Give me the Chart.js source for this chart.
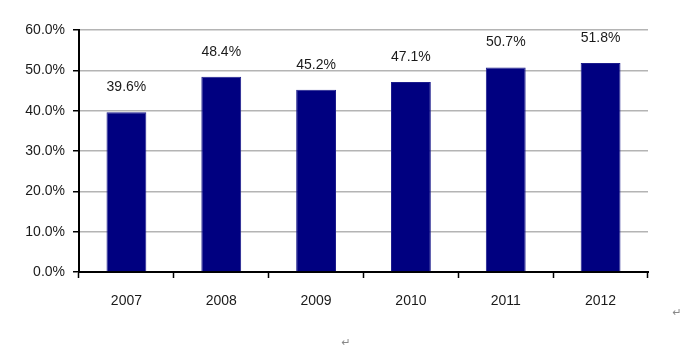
<!DOCTYPE html>
<html>
<head>
<meta charset="utf-8">
<script src="https://cdn.jsdelivr.net/npm/chart.js@4"></script>
<style>
  html, body { margin: 0; padding: 0; background: #fff; }
  #wrap { width: 692px; height: 346px; position: relative; }
</style>
</head>
<body>
<div id="wrap"><canvas id="chart" width="692" height="346"></canvas></div>
<script>
// Chart data
const years = ['2007', '2008', '2009', '2010', '2011', '2012'];
const shares = [39.6, 48.4, 45.2, 47.1, 50.7, 51.8];

const textColor = '#1a1a1a';
const fontFamily = '"Liberation Sans", Arial, sans-serif';

// Value labels above each bar
const valueLabels = {
    id: 'valueLabels',
    afterDatasetsDraw(chart) {
        const ctx = chart.ctx;
        const meta = chart.getDatasetMeta(0);
        ctx.save();
        ctx.font = '14px ' + fontFamily;
        ctx.fillStyle = textColor;
        ctx.textAlign = 'center';
        ctx.textBaseline = 'middle';
        meta.data.forEach((bar, i) => {
            ctx.fillText(shares[i].toFixed(1) + '%', bar.x, bar.y - 25);
        });
        ctx.restore();
    }
};

// Paragraph marks left in the document
const paraMarks = {
    id: 'paraMarks',
    afterDraw(chart) {
        const ctx = chart.ctx;
        ctx.save();
        ctx.font = '11px "DejaVu Sans", sans-serif';
        ctx.fillStyle = '#888';
        ctx.textAlign = 'center';
        ctx.textBaseline = 'middle';
        ctx.fillText('\u21B5', 677, 313);
        ctx.fillText('\u21B5', 346, 343);
        ctx.restore();
    }
};

new Chart(document.getElementById('chart').getContext('2d'), {
    type: 'bar',
    data: {
        labels: years,
        datasets: [{
            data: shares,
            backgroundColor: '#000080',
            borderColor: '#1c1c8c',
            borderWidth: 1,
            barPercentage: 0.42,
            categoryPercentage: 1
        }]
    },
    options: {
        responsive: false,
        animation: false,
        layout: { padding: { left: 0, right: 44, top: 30, bottom: 0 } },
        plugins: {
            legend: { display: false },
            tooltip: { enabled: false }
        },
        scales: {
            x: {
                grid: {
                    offset: true,
                    drawOnChartArea: false,
                    drawTicks: true,
                    tickLength: 6,
                    tickColor: '#000',
                    tickWidth: 1.5
                },
                border: { color: '#000', width: 2 },
                ticks: {
                    color: textColor,
                    font: { family: fontFamily, size: 14 },
                    padding: 15
                },
                afterFit(scale) { scale.height = 74; }
            },
            y: {
                min: 0,
                max: 60,
                ticks: {
                    stepSize: 10,
                    color: textColor,
                    font: { family: fontFamily, size: 14 },
                    padding: 8,
                    callback: v => v.toFixed(1) + '%'
                },
                grid: {
                    color: '#b4b4b4',
                    lineWidth: 1.5,
                    tickLength: 6,
                    tickColor: '#000',
                    tickWidth: 1.5
                },
                border: { color: '#000', width: 2 },
                afterFit(scale) { scale.width = 79; }
            }
        }
    },
    plugins: [valueLabels, paraMarks]
});
</script>
</body>
</html>
